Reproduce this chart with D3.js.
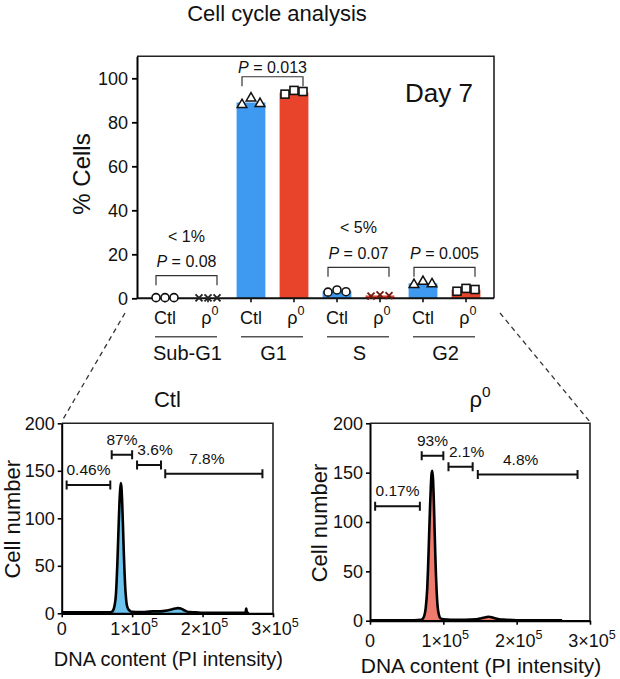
<!DOCTYPE html>
<html>
<head>
<meta charset="utf-8">
<script src="https://cdn.jsdelivr.net/npm/d3@7"></script>
<style>
  body { margin: 0; background: #fff; }
  text { font-family: "Liberation Sans", Arial, Helvetica, sans-serif; fill: #111; }
</style>
</head>
<body>
<script>
// ---- bar chart data (% cells, day 7) ----
const phases = ["Sub-G1", "G1", "S", "G2"];
const groups = ["Ctl", "rho"];
const ctlMean = [0.3, 89, 3.2, 6.8];
const rhoMean = [0.15, 93.5, 1.3, 3.9];
const ctlPoints = [[0.3, 0.3, 0.3], [88, 91, 88.5], [2.8, 3.8, 3.0], [6.2, 7.6, 6.5]];
const rhoPoints = [[0.15, 0.15, 0.15], [92.8, 94.5, 94], [1.0, 1.6, 1.2], [3.2, 4.5, 4.0]];
const ctlShape = ["circle", "triangle", "circle", "triangle"];
const rhoShape = ["cross", "square", "cross", "square"];
const pValues = ["0.08", "0.013", "0.07", "0.005"];
const notes = ["< 1%", "", "< 5%", ""];
const bracketLevel = [10.3, 100.7, 14.1, 14.1];
const yTicks = [0, 20, 40, 60, 80, 100];

// ---- histograms: DNA content (x1000) vs cell number ----
const ctlHist = [
  [0, 1], [20, 1], [40, 1], [60, 1], [68, 1], [71, 1.5], [73, 3], [75, 8], [77, 20],
  [78, 34], [79, 52], [80, 74], [81, 96], [82, 116], [83, 130], [84, 137], [85, 131],
  [86, 114], [87, 92], [88, 68], [89, 47], [90, 30], [91, 19], [92, 11], [94, 5], [97, 2.5],
  [100, 1.5], [110, 1.2], [120, 1.5], [130, 2], [140, 2], [150, 3], [156, 4], [161, 5],
  [165, 5.5], [169, 5], [173, 3.5], [177, 2], [182, 1.2], [190, 1], [200, 0.5], [230, 0.5],
  [255, 0.5], [261, 0.5], [262, 5], [263, 0.5], [266, 0.3]
];
const rhoHist = [
  [0, 0.5], [30, 0.5], [60, 0.5], [70, 1], [72, 2], [74, 5], [76, 13], [78, 32], [79, 50],
  [80, 72], [81, 96], [82, 118], [83, 137], [84, 149], [85, 152], [86, 143], [87, 122],
  [88, 95], [89, 68], [90, 45], [91, 28], [92, 16], [94, 6], [96, 2.5], [100, 1.5], [110, 1],
  [130, 1], [145, 1.5], [152, 2.5], [158, 3.5], [162, 4], [166, 3.5], [170, 2.5],
  [176, 1.5], [185, 1], [200, 0.5], [230, 0.5], [262, 0.5]
];
const ctlGates = [
  { label: "0.46%", from: 7, to: 69, level: 135 },
  { label: "87%", from: 71, to: 100, level: 167 },
  { label: "3.6%", from: 107, to: 141, level: 156 },
  { label: "7.8%", from: 147, to: 285, level: 147 }
];
const rhoGates = [
  { label: "0.17%", from: 7, to: 68, level: 116 },
  { label: "93%", from: 70.5, to: 100, level: 167 },
  { label: "2.1%", from: 107, to: 140, level: 156 },
  { label: "4.8%", from: 147, to: 283, level: 148 }
];
const histYTicks = [0, 50, 100, 150, 200];
const histXTicks = [0, 100, 200, 300];

const blue = "#3d9af0", red = "#e8432b";
const svg = d3.select("body").append("svg").attr("width", 620).attr("height", 679);

// superscript helper: base text + raised small text
function supText(t, base, sup, size) {
  t.append("tspan").text(base);
  t.append("tspan").attr("dy", -size * 0.45).attr("font-size", size * 0.7).text(sup);
}

svg.append("text")
  .attr("x", 277).attr("y", 21)
  .attr("text-anchor", "middle").attr("font-size", 22)
  .text("Cell cycle analysis");

// === Bar chart ===
{
  const left = 137, right = 494, top = 56.3, bottom = 298.3;
  const keys = phases.flatMap((p) => groups.map((g) => p + "|" + g));
  const x = d3.scaleBand().domain(keys).range([143.5, 487.5])
    .paddingInner(0.33).paddingOuter(0.165);
  const y = d3.scaleLinear().domain([0, 110]).range([bottom, top]);
  const cx = (i, g) => x(phases[i] + "|" + g) + x.bandwidth() / 2;

  // bars
  phases.forEach((p, i) => {
    [[ "Ctl", ctlMean[i], blue ], [ "rho", rhoMean[i], red ]].forEach(([g, v, c]) => {
      svg.append("rect")
        .attr("x", x(p + "|" + g)).attr("width", x.bandwidth())
        .attr("y", y(v)).attr("height", bottom - y(v))
        .attr("fill", c);
    });
  });

  // frame + axes
  svg.append("path")
    .attr("d", `M${left},${top}H${right}V${bottom}`)
    .attr("fill", "none").attr("stroke", "#222").attr("stroke-width", 1.6);

  const ya = svg.append("g")
    .attr("transform", `translate(${left},0)`)
    .call(d3.axisLeft(y).tickValues(yTicks).tickSize(5).tickPadding(4).tickSizeOuter(0));
  ya.selectAll("text").attr("font-size", 18);
  ya.selectAll("line").attr("stroke-width", 1.8);
  ya.select(".domain").attr("stroke-width", 2);

  const xa = svg.append("g")
    .attr("transform", `translate(0,${bottom})`)
    .call(d3.axisBottom(x).tickSize(4).tickFormat(""));
  xa.select(".domain").remove();
  xa.selectAll("line").attr("stroke-width", 1.5);
  svg.append("line")
    .attr("x1", left).attr("x2", right).attr("y1", bottom).attr("y2", bottom)
    .attr("stroke", "#111").attr("stroke-width", 2);

  // individual points
  const offs = [-9, 0, 9];
  function marker(shape, px, py, color) {
    if (shape === "circle") {
      svg.append("circle").attr("cx", px).attr("cy", py).attr("r", 4)
        .attr("fill", "#fff").attr("stroke", "#111").attr("stroke-width", 1.6);
    } else if (shape === "triangle") {
      svg.append("path")
        .attr("d", d3.symbol(d3.symbolTriangle, 40)())
        .attr("transform", `translate(${px},${py})`)
        .attr("fill", "#fff").attr("stroke", "#111").attr("stroke-width", 1.5);
    } else if (shape === "square") {
      svg.append("rect").attr("x", px - 4).attr("y", py - 4)
        .attr("width", 8).attr("height", 8)
        .attr("fill", "#fff").attr("stroke", "#111").attr("stroke-width", 1.6);
    } else {
      const s = 3.5;
      svg.append("path")
        .attr("d", `M${px - s},${py - s}L${px + s},${py + s}M${px - s},${py + s}L${px + s},${py - s}`)
        .attr("stroke", color).attr("stroke-width", 1.8);
    }
  }
  phases.forEach((p, i) => {
    ctlPoints[i].forEach((v, j) => marker(ctlShape[i], cx(i, "Ctl") + offs[j], y(v), "#111"));
    rhoPoints[i].forEach((v, j) =>
      marker(rhoShape[i], cx(i, "rho") + offs[j], y(v), i === 2 ? "#6a1a10" : "#222"));
  });

  // significance brackets
  phases.forEach((p, i) => {
    const x1 = cx(i, "Ctl") - 9, x2 = cx(i, "rho") + 9, by = y(bracketLevel[i]);
    svg.append("path")
      .attr("d", `M${x1},${by + 9.5}V${by}H${x2}V${by + 9.5}`)
      .attr("fill", "none").attr("stroke", "#333").attr("stroke-width", 1.2);
    const t = svg.append("text")
      .attr("x", (x1 + x2) / 2).attr("y", by - (i === 1 ? 4 : 8.5))
      .attr("text-anchor", "middle").attr("font-size", 16);
    t.append("tspan").attr("font-style", "italic").text("P");
    t.append("tspan").text(" = " + pValues[i]);
    if (notes[i]) {
      svg.append("text")
        .attr("x", (x1 + x2) / 2).attr("y", by - 34)
        .attr("text-anchor", "middle").attr("font-size", 16)
        .text(notes[i]);
    }
  });

  // category labels
  phases.forEach((p, i) => {
    svg.append("text").attr("x", cx(i, "Ctl")).attr("y", 323.5)
      .attr("text-anchor", "middle").attr("font-size", 18).text("Ctl");
    const r = svg.append("text").attr("x", cx(i, "rho") + 2).attr("y", 323.5)
      .attr("text-anchor", "middle").attr("font-size", 18);
    supText(r, "ρ", "0", 18);
    svg.append("line")
      .attr("x1", cx(i, "Ctl") - 10).attr("x2", cx(i, "rho") + 9)
      .attr("y1", 336.7).attr("y2", 336.7)
      .attr("stroke", "#555").attr("stroke-width", 1.5);
    svg.append("text")
      .attr("x", (cx(i, "Ctl") + cx(i, "rho")) / 2 + 1).attr("y", 360)
      .attr("text-anchor", "middle").attr("font-size", 20).text(p);
  });

  svg.append("text")
    .attr("transform", `translate(90,174) rotate(-90)`)
    .attr("text-anchor", "middle").attr("font-size", 24).text("% Cells");

  svg.append("text")
    .attr("x", right - 21).attr("y", 101.5)
    .attr("text-anchor", "end").attr("font-size", 26).text("Day 7");

  // dashed zoom lines
  svg.append("line").attr("x1", 125).attr("y1", 313).attr("x2", 62).attr("y2", 421)
    .attr("stroke", "#333").attr("stroke-width", 1.3).attr("stroke-dasharray", "5,4");
  svg.append("line").attr("x1", 500).attr("y1", 313).attr("x2", 590).attr("y2", 422)
    .attr("stroke", "#333").attr("stroke-width", 1.3).attr("stroke-dasharray", "5,4");
}

// === Histograms ===
function histogram(cfg) {
  const hx = d3.scaleLinear().domain([0, 300]).range([cfg.left, cfg.right]);
  const hy = d3.scaleLinear().domain([0, 200]).range([cfg.bottom, cfg.top]);

  svg.append("path")
    .attr("d", `M${cfg.left},${cfg.top}H${cfg.right}V${cfg.bottom}`)
    .attr("fill", "none").attr("stroke", "#222").attr("stroke-width", 1.6);

  const area = d3.area()
    .x((d) => hx(d[0])).y0(hy(0)).y1((d) => hy(d[1]))
    .curve(d3.curveMonotoneX);
  const line = d3.line()
    .x((d) => hx(d[0])).y((d) => hy(d[1]))
    .curve(d3.curveMonotoneX);
  svg.append("path").datum(cfg.data).attr("d", area).attr("fill", cfg.fill);
  svg.append("path").datum(cfg.data).attr("d", line)
    .attr("fill", "none").attr("stroke", "#000").attr("stroke-width", 2.6)
    .attr("stroke-linejoin", "round");

  const ya = svg.append("g")
    .attr("transform", `translate(${cfg.left},0)`)
    .call(d3.axisLeft(hy).tickValues(histYTicks).tickSize(4).tickPadding(3).tickSizeOuter(0));
  ya.selectAll("text").attr("font-size", 18);
  ya.select(".domain").attr("stroke-width", 2);
  ya.selectAll("line").attr("stroke-width", 1.6);

  const xa = svg.append("g")
    .attr("transform", `translate(0,${cfg.bottom})`)
    .call(d3.axisBottom(hx).tickValues(histXTicks).tickSize(4).tickFormat("").tickSizeOuter(0));
  xa.select(".domain").attr("stroke-width", 2.2);
  xa.selectAll("line").attr("stroke-width", 1.6);

  histXTicks.forEach((v) => {
    const t = svg.append("text")
      .attr("x", hx(v) + (v === 0 ? 0 : 2)).attr("y", cfg.bottom + cfg.tickDy)
      .attr("text-anchor", "middle").attr("font-size", 18);
    if (v === 0) t.text("0");
    else supText(t, `${v / 100}×10`, "5", 18);
  });

  // gates
  const labelDx = [0, 0, 6, -7];
  cfg.gates.forEach((g, i) => {
    const gx1 = hx(g.from), gx2 = hx(g.to), gy = hy(g.level);
    svg.append("path")
      .attr("d", `M${gx1},${gy - 4.5}V${gy + 4.5}M${gx1},${gy}H${gx2}M${gx2},${gy - 4.5}V${gy + 4.5}`)
      .attr("fill", "none").attr("stroke", "#111").attr("stroke-width", 2);
    svg.append("text")
      .attr("x", (gx1 + gx2) / 2 + labelDx[i]).attr("y", gy - 10)
      .attr("text-anchor", "middle").attr("font-size", 15.5).text(g.label);
  });

  svg.append("text")
    .attr("transform", `translate(${cfg.left - cfg.yTitleGap},${(cfg.top + cfg.bottom) / 2 + 1}) rotate(-90)`)
    .attr("text-anchor", "middle").attr("font-size", 22).text("Cell number");

  svg.append("text")
    .attr("x", (cfg.left + cfg.right) / 2 + 1).attr("y", cfg.titleY)
    .attr("text-anchor", "middle").attr("font-size", cfg.xTitleSize)
    .text("DNA content (PI intensity)");

  const tt = svg.append("text")
    .attr("x", (cfg.left + cfg.right) / 2).attr("y", 407)
    .attr("text-anchor", "middle").attr("font-size", 22);
  if (cfg.rho) supText(tt, "ρ", "0", 22);
  else tt.text("Ctl");
}

histogram({
  left: 61.7, right: 273, top: 423.3, bottom: 613.3,
  data: ctlHist, fill: "#6cc4ee", gates: ctlGates,
  tickDy: 22, titleY: 666, xTitleSize: 20, yTitleGap: 42, rho: false
});
histogram({
  left: 370, right: 590, top: 423.3, bottom: 620.7,
  data: rhoHist, fill: "#ee7b6d", gates: rhoGates,
  tickDy: 26, titleY: 673, xTitleSize: 21, yTitleGap: 43, rho: true
});
</script>
</body>
</html>
